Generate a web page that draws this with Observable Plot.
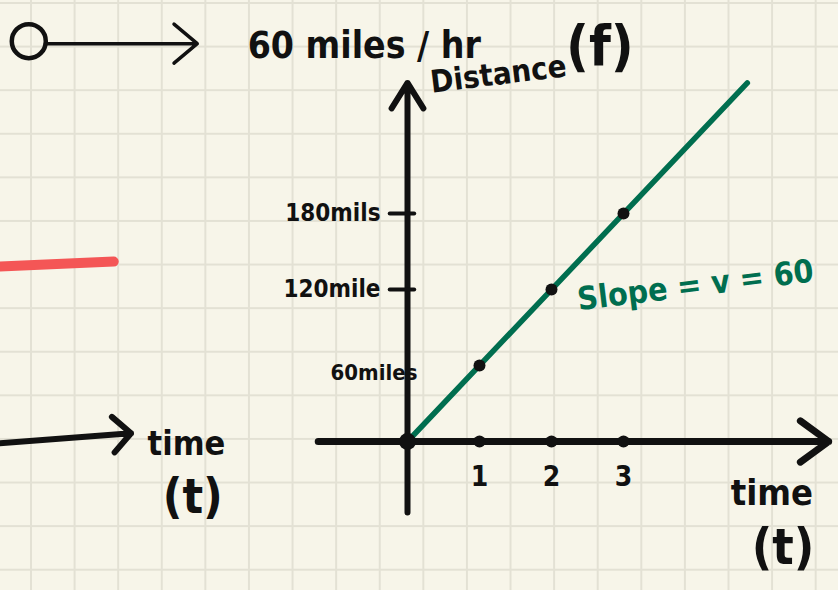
<!DOCTYPE html>
<html>
<head>
<meta charset="utf-8">
<script src="https://cdn.jsdelivr.net/npm/d3@7"></script>
<script src="https://cdn.jsdelivr.net/npm/@observablehq/plot@0.6"></script>
<style>
  html, body { margin: 0; padding: 0; background: #f7f5e9; }
  #sheet {
    width: 838px; height: 590px; position: relative; overflow: hidden;
    background-color: #f7f5e9;
    background-image:
      linear-gradient(to right, #e3e1d4 0 2px, transparent 2px),
      linear-gradient(to bottom, #e3e1d4 0 2px, transparent 2px);
    background-size: 43.6px 43.6px;
    background-position: 30px 2px;
  }
  #sheet svg { display: block; }
</style>
</head>
<body>
<div id="sheet"></div>
<script>
// Distance–time sketch of a car moving at a constant 60 miles per hour.
const times = [0, 1, 2, 3];              // hours
const distances = [0, 60, 120, 180];     // miles travelled
const timeTickLabels = ["1", "2", "3"];
const distanceTicks = [60, 120, 180];
const distanceTickLabels = ["60miles", "120mile", "180mils"];
const lineTimes = [0, 4.72];             // extent of the drawn distance line
const lineDistances = [0, 283];
const speedLabel = "60 miles / hr";
const slopeLabel = "Slope = v = 60";

const W = 838, H = 590;
const originX = 407, originY = 441;      // where t = 0, d = 0 sits on the page
const pxPerHour = 72, pxPerMile = 1.267;

const points = times.map((t, i) => ({t, d: distances[i]}));
const line = lineTimes.map((t, i) => ({t, d: lineDistances[i]}));
const xTicks = timeTickLabels.map(s => ({t: +s, label: s}));
const yTicks = distanceTicks.map((d, i) => ({d, label: distanceTickLabels[i]}));
const dashed = yTicks.filter(d => d.d !== 60);
const overlapped = yTicks.filter(d => d.d === 60);

const hand = "'DejaVu Sans Condensed', 'Liberation Sans', sans-serif";
const ink = "#111111";
const green = "#006e4f";
const red = "#f45656";

const chart = Plot.plot({
  width: W,
  height: H,
  margin: 0,
  x: {domain: [-originX / pxPerHour, (W - originX) / pxPerHour], axis: null},
  y: {domain: [-(H - originY) / pxPerMile, originY / pxPerMile], axis: null},
  style: {background: "transparent", overflow: "visible"},
  marks: [
    // earlier sketch on the left edge of the page
    Plot.line([{t: -5.7, d: 138}, {t: -4.08, d: 142}], {
      x: "t", y: "d", stroke: red, strokeWidth: 10, strokeLinecap: "round"
    }),
    Plot.arrow([{t1: -5.7, d1: -1.6, t2: -3.84, d2: 6.5}], {
      x1: "t1", y1: "d1", x2: "t2", y2: "d2",
      stroke: ink, strokeWidth: 6, headLength: 6.3, headAngle: 90, strokeLinecap: "round"
    }),
    Plot.text(["time"], {
      x: -3.61, y: -2, text: d => d, textAnchor: "start",
      fontFamily: hand, fontWeight: "bold", fontSize: 34, fill: ink
    }),
    Plot.text(["(t)"], {
      x: -3.4, y: -44, text: d => d, textAnchor: "start",
      fontFamily: hand, fontWeight: "bold", fontSize: 48, fill: ink
    }),

    // speed heading: a moving object and its speed
    Plot.dot([{t: -5.26, d: 316}], {
      x: "t", y: "d", r: 17, stroke: ink, strokeWidth: 4.5, fill: "none"
    }),
    Plot.arrow([{t1: -5.03, t2: -2.92, d: 314}], {
      x1: "t1", x2: "t2", y1: "d", y2: "d",
      stroke: ink, strokeWidth: 3.5, headLength: 13, headAngle: 80, strokeLinecap: "round"
    }),
    Plot.text([speedLabel], {
      x: -2.22, y: 312, text: d => d, textAnchor: "start",
      fontFamily: hand, fontWeight: "bold", fontSize: 37, fill: ink
    }),

    // axes
    Plot.arrow([{t: 0, d1: -56, d2: 283}], {
      x1: "t", x2: "t", y1: "d1", y2: "d2",
      stroke: ink, strokeWidth: 6, headLength: 7.5, headAngle: 64, strokeLinecap: "round"
    }),
    Plot.arrow([{t1: -1.24, t2: 5.85, d: 0}], {
      x1: "t1", x2: "t2", y1: "d", y2: "d",
      stroke: ink, strokeWidth: 7, headLength: 7.5, headAngle: 72, strokeLinecap: "round"
    }),
    Plot.ruleY(dashed, {
      y: "d", x1: -0.24, x2: 0.1, stroke: ink, strokeWidth: 4, strokeLinecap: "round"
    }),
    Plot.text(dashed, {
      x: 0, y: "d", text: "label", textAnchor: "end", dx: -27,
      fontFamily: hand, fontWeight: "bold", fontSize: 24, fill: ink
    }),
    Plot.text(overlapped, {
      x: 0, y: "d", text: "label", textAnchor: "end", dx: 10, dy: 7,
      fontFamily: hand, fontWeight: "bold", fontSize: 22, fill: ink
    }),
    Plot.dot(xTicks, {x: "t", y: 0, r: 6, fill: ink}),
    Plot.text(xTicks, {
      x: "t", y: 0, text: "label", dy: 36,
      fontFamily: hand, fontWeight: "bold", fontSize: 28, fill: ink
    }),
    Plot.text(["Distance"], {
      x: 0.32, y: 283, text: d => d, textAnchor: "start", rotate: -7,
      fontFamily: hand, fontWeight: "bold", fontSize: 31, fill: ink
    }),
    Plot.text(["(f)"], {
      x: 2.2, y: 311, text: d => d, textAnchor: "start",
      fontFamily: hand, fontWeight: "bold", fontSize: 56, fill: ink
    }),
    Plot.text(["time"], {
      x: 4.49, y: -41, text: d => d, textAnchor: "start",
      fontFamily: hand, fontWeight: "bold", fontSize: 36, fill: ink
    }),
    Plot.text(["(t)"], {
      x: 4.78, y: -84, text: d => d, textAnchor: "start",
      fontFamily: hand, fontWeight: "bold", fontSize: 50, fill: ink
    }),

    // distance = 60 × time
    Plot.line(line, {
      x: "t", y: "d", stroke: green, strokeWidth: 5.5, strokeLinecap: "round"
    }),
    Plot.dot(points.filter(p => p.t > 0), {x: "t", y: "d", r: 6, fill: ink}),
    Plot.dot(points.filter(p => p.t === 0), {x: "t", y: "d", r: 8.5, fill: ink}),
    Plot.text([slopeLabel], {
      x: 4.0, y: 123, text: d => d, rotate: -7,
      fontFamily: hand, fontWeight: "bold", fontSize: 32, fill: green
    })
  ]
});

document.getElementById("sheet").appendChild(chart);
</script>
</body>
</html>
